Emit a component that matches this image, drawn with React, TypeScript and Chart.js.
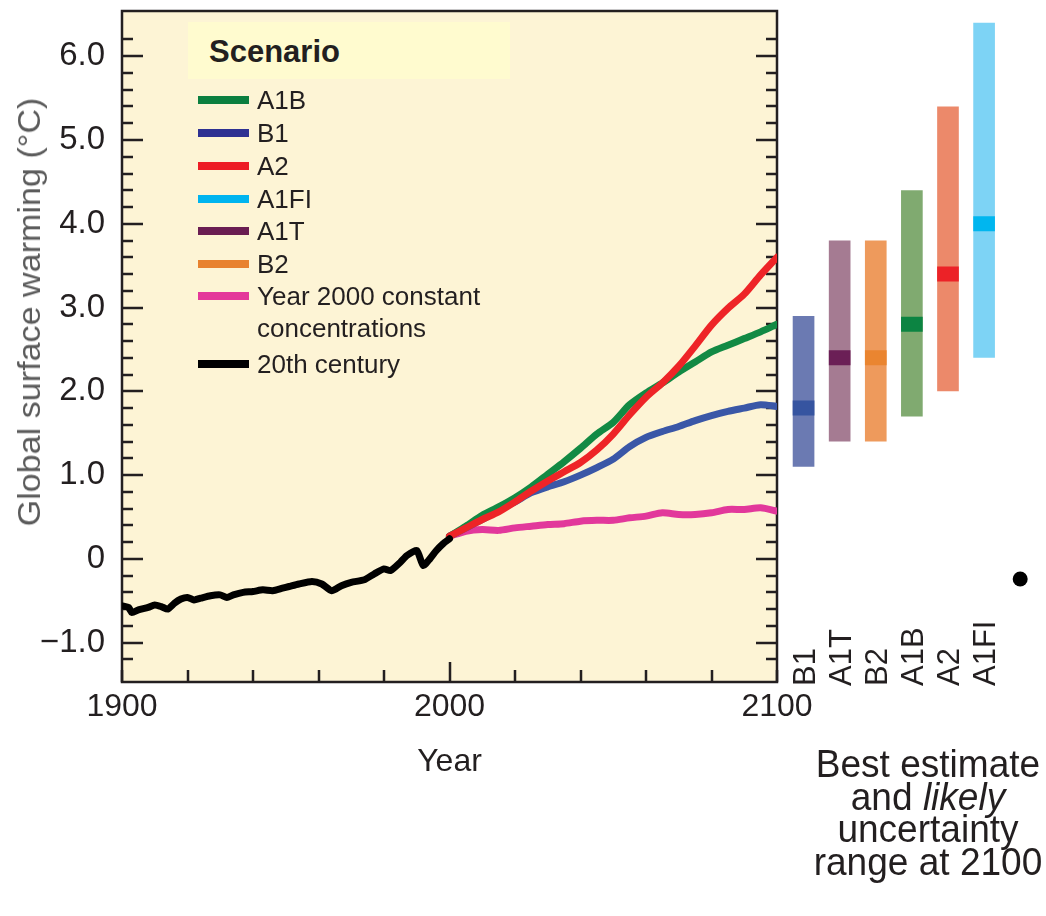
import React, { useEffect, useRef } from 'react';
import { Chart, registerables } from 'chart.js';

Chart.register(...registerables);

const FONT = '"Liberation Sans", Arial, Helvetica, sans-serif';
const INK = '#231f20';

// ---- 20th century observations ----
const histYears = [1900, 1902, 1903, 1905, 1908, 1910, 1912, 1914, 1916, 1918, 1920, 1922, 1924, 1927, 1930, 1932, 1934, 1937, 1940, 1943, 1946, 1949, 1951, 1954, 1958, 1961, 1964, 1967, 1970, 1974, 1977, 1980, 1982, 1985, 1987, 1990, 1992, 1994, 1996, 1998, 2000];
const histValues = [-0.56, -0.58, -0.64, -0.61, -0.58, -0.55, -0.57, -0.6, -0.53, -0.48, -0.46, -0.49, -0.47, -0.44, -0.43, -0.46, -0.43, -0.4, -0.39, -0.37, -0.38, -0.35, -0.33, -0.3, -0.27, -0.3, -0.38, -0.32, -0.28, -0.25, -0.18, -0.12, -0.14, -0.04, 0.04, 0.1, -0.08, 0.0, 0.1, 0.18, 0.24];

// ---- scenario projections ----
const scenarioYears = [2000, 2005, 2010, 2015, 2020, 2025, 2030, 2035, 2040, 2045, 2050, 2055, 2060, 2065, 2070, 2075, 2080, 2085, 2090, 2095, 2100];
const a1bValues = [0.27, 0.39, 0.52, 0.62, 0.73, 0.86, 1.01, 1.16, 1.32, 1.49, 1.63, 1.84, 1.98, 2.1, 2.23, 2.35, 2.47, 2.55, 2.63, 2.71, 2.8];
const a2Values = [0.27, 0.37, 0.47, 0.56, 0.68, 0.81, 0.93, 1.04, 1.15, 1.3, 1.49, 1.72, 1.93, 2.1, 2.3, 2.54, 2.79, 2.99, 3.16, 3.39, 3.6];
const b1Values = [0.27, 0.37, 0.47, 0.58, 0.68, 0.79, 0.86, 0.92, 1.0, 1.09, 1.19, 1.34, 1.45, 1.52, 1.58, 1.65, 1.71, 1.76, 1.8, 1.84, 1.82];
const constantValues = [0.27, 0.33, 0.35, 0.34, 0.37, 0.39, 0.41, 0.42, 0.45, 0.46, 0.46, 0.49, 0.51, 0.55, 0.53, 0.53, 0.55, 0.59, 0.59, 0.61, 0.57];

// ---- axes ----
const yMin = -1.47;
const yMax = 6.54;
const xMin = 1900;
const xMax = 2100;
const xLabelYears = [1900, 2000, 2100];

// ---- 2100 ranges ----
const rangeLabels = ['B1', 'A1T', 'B2', 'A1B', 'A2', 'A1FI', ''];
const rangeLow = [1.1, 1.4, 1.4, 1.7, 2.0, 2.4];
const rangeHigh = [2.9, 3.8, 3.8, 4.4, 5.4, 6.4];
const bestEstimate = [1.8, 2.4, 2.4, 2.8, 3.4, 4.0];
const dotValue = [null, null, null, null, null, null, -0.24];

const rangeColors = ['#6b7ab2', '#a57b92', '#ee9a5c', '#80aa70', '#ec896a', '#7dd3f5'];
const bestColors = ['#3654a0', '#6b1f56', '#ea8530', '#0c8442', '#ec2227', '#00b6ef'];
const BEST_HALF = 0.09;

const legendItems = [
  { label: 'A1B', color: '#0b7f3f', y: 100 },
  { label: 'B1', color: '#2e3192', y: 133 },
  { label: 'A2', color: '#ed1c24', y: 166 },
  { label: 'A1FI', color: '#00b4ef', y: 199 },
  { label: 'A1T', color: '#6a1d52', y: 231 },
  { label: 'B2', color: '#e8822f', y: 264 },
  { label: 'Year 2000 constant', color: '#e4389a', y: 296 },
  { label: 'concentrations', color: null, y: 328 },
  { label: '20th century', color: '#000000', y: 364 },
];

const toPoints = (xs: number[], ys: number[]) => xs.map((x, i) => ({ x, y: ys[i] }));

const frameInk = '#231f20';
const PLOT_BG = '#fdf4d5';

const zeroPadding = (s: any) => {
  s.paddingTop = 0;
  s.paddingBottom = 0;
  s.paddingLeft = 0;
  s.paddingRight = 0;
};

const framePlugin = {
  id: 'frame',
  beforeDraw(chart: any) {
    const { ctx, chartArea: a } = chart;
    ctx.save();
    ctx.fillStyle = PLOT_BG;
    ctx.fillRect(a.left, a.top, a.right - a.left, a.bottom - a.top);
    ctx.restore();
  },
  beforeDatasetsDraw(chart: any) {
    const { ctx, chartArea: a, scales } = chart;
    const x = scales.x;
    const y = scales.y;
    ctx.save();
    ctx.strokeStyle = frameInk;
    ctx.lineWidth = 2.5;
    ctx.beginPath();
    y.ticks.forEach((t: any) => {
      const v = t.value;
      const k = v / 0.2;
      if (Math.abs(k - Math.round(k)) > 1e-6) return;
      const major = Math.abs(v - Math.round(v)) < 1e-6;
      const len = major ? 21 : 11;
      const py = Math.round(y.getPixelForValue(v));
      ctx.moveTo(a.left, py);
      ctx.lineTo(a.left + len, py);
      ctx.moveTo(a.right, py);
      ctx.lineTo(a.right - len, py);
    });
    x.ticks.forEach((t: any) => {
      const v = t.value;
      const len = v === 2000 ? 20 : 12;
      const px = Math.round(x.getPixelForValue(v));
      ctx.moveTo(px, a.bottom);
      ctx.lineTo(px, a.bottom - len);
    });
    ctx.stroke();
    ctx.strokeRect(a.left, a.top, a.right - a.left, a.bottom - a.top);
    ctx.restore();
  },
};

const rotatedLabelsPlugin = {
  id: 'rotatedLabels',
  afterDraw(chart: any) {
    const { ctx, scales } = chart;
    const x = scales.x;
    const size = 31;
    ctx.save();
    ctx.fillStyle = INK;
    ctx.font = `${size}px ${FONT}`;
    ctx.textAlign = 'left';
    ctx.textBaseline = 'alphabetic';
    rangeLabels.forEach((lab, i) => {
      if (!lab) return;
      const px = x.getPixelForValue(i);
      ctx.save();
      ctx.translate(px + size * 0.716 / 2, 686);
      ctx.rotate(-Math.PI / 2);
      ctx.fillText(lab, 0, 0);
      ctx.restore();
    });
    ctx.restore();
  },
};

export default function App() {
  const mainRef = useRef<HTMLCanvasElement>(null);
  const barRef = useRef<HTMLCanvasElement>(null);

  useEffect(() => {
    const lineBase = { pointRadius: 0, borderWidth: 7, tension: 0.25, borderCapStyle: 'round', borderJoinStyle: 'round', fill: false };
    const main = new Chart(mainRef.current as HTMLCanvasElement, {
      type: 'line',
      data: {
        datasets: [
          { ...lineBase, label: '20th century', data: toPoints(histYears, histValues), borderColor: '#000000', tension: 0.2 },
          { ...lineBase, label: 'A2', data: toPoints(scenarioYears, a2Values), borderColor: '#ee2427' },
          { ...lineBase, label: 'A1B', data: toPoints(scenarioYears, a1bValues), borderColor: '#128a44' },
          { ...lineBase, label: 'B1', data: toPoints(scenarioYears, b1Values), borderColor: '#3a57a7' },
          { ...lineBase, label: 'Year 2000 constant concentrations', data: toPoints(scenarioYears, constantValues), borderColor: '#e2389b' },
        ] as any,
      },
      options: {
        responsive: false,
        animation: false,
        devicePixelRatio: 1,
        layout: { padding: { top: 11, right: 63, left: 0, bottom: 0 } },
        plugins: { legend: { display: false }, tooltip: { enabled: false } },
        scales: {
          x: {
            type: 'linear',
            min: xMin,
            max: xMax,
            grid: { display: false, drawTicks: false },
            border: { display: false },
            ticks: {
              stepSize: 20,
              autoSkip: false,
              maxRotation: 0,
              minRotation: 0,
              padding: 6,
              color: INK,
              font: { family: FONT, size: 32 },
              callback: (v: any) => (xLabelYears.includes(Number(v)) ? String(v) : ''),
            },
            title: { display: true, text: 'Year', color: INK, font: { family: FONT, size: 32 }, padding: { top: 0, bottom: 19 } },
            afterFit: (s: any) => { s.height = 118; zeroPadding(s); },
          },
          y: {
            type: 'linear',
            min: yMin,
            max: yMax,
            grid: { display: false, drawTicks: false },
            border: { display: false },
            ticks: {
              stepSize: 0.2,
              autoSkip: false,
              padding: 17,
              color: INK,
              font: { family: FONT, size: 33 },
              callback: (v: any) => {
                const n = Number(v);
                if (Math.abs(n - Math.round(n)) > 1e-6) return '';
                const r = Math.round(n);
                if (r === 0) return '0';
                return r < 0 ? '\u2212' + Math.abs(r).toFixed(1) : r.toFixed(1);
              },
            },
            afterFit: (s: any) => { s.width = 122; zeroPadding(s); },
          },
        },
      } as any,
      plugins: [framePlugin],
    });

    const bars = new Chart(barRef.current as HTMLCanvasElement, {
      type: 'bar',
      data: {
        labels: rangeLabels,
        datasets: [
          { type: 'line', data: dotValue, showLine: false, pointRadius: 7.5, pointBackgroundColor: '#000000', pointBorderWidth: 0, borderColor: '#000000' },
          { data: bestEstimate.map((b) => [b - BEST_HALF, b + BEST_HALF]), backgroundColor: bestColors, grouped: false, barPercentage: 0.6, categoryPercentage: 1 },
          { data: rangeLow.map((l, i) => [l, rangeHigh[i]]), backgroundColor: rangeColors, grouped: false, barPercentage: 0.6, categoryPercentage: 1 },
        ] as any,
      },
      options: {
        responsive: false,
        animation: false,
        devicePixelRatio: 1,
        layout: { padding: { top: 11, bottom: 18, left: 4.75, right: 7.75 } },
        plugins: { legend: { display: false }, tooltip: { enabled: false } },
        scales: {
          x: { display: false },
          y: { display: false, min: yMin, max: yMax },
        },
      } as any,
      plugins: [rotatedLabelsPlugin],
    });

    return () => {
      main.destroy();
      bars.destroy();
    };
  }, []);

  const noteLine = { transform: 'scaleX(0.95)', transformOrigin: 'center' } as React.CSSProperties;

  return (
    <div style={{ position: 'absolute', left: 0, top: 0, width: 1046, height: 916, background: '#ffffff', fontFamily: FONT, color: INK, overflow: 'hidden' }}>
      <canvas ref={mainRef} width={840} height={800} style={{ position: 'absolute', left: 0, top: 0, width: 840, height: 800 }} />
      <canvas ref={barRef} width={268} height={700} style={{ position: 'absolute', left: 778, top: 0, width: 268, height: 700 }} />

      <div style={{ position: 'absolute', left: 30, top: 312, transform: 'translate(-50%, -50%) rotate(-90deg) scaleX(1.1)', whiteSpace: 'nowrap', fontSize: 31, color: '#5b5b5b' }}>
        Global surface warming (°C)
      </div>

      <div style={{ position: 'absolute', left: 188, top: 22, width: 322, height: 57, background: '#fffbcf' }} />
      <div style={{ position: 'absolute', left: 209, top: 51.5, transform: 'translateY(-50%)', fontSize: 31, fontWeight: 'bold', lineHeight: '34px', whiteSpace: 'nowrap' }}>
        Scenario
      </div>
      {legendItems.map((it) => (
        <React.Fragment key={it.label}>
          {it.color && (
            <div style={{ position: 'absolute', left: 198, top: it.y - 4, width: 51, height: 8, background: it.color }} />
          )}
          <div style={{ position: 'absolute', left: 257, top: it.y, transform: 'translateY(-50%)', fontSize: 26, lineHeight: '28px', whiteSpace: 'nowrap' }}>
            {it.label}
          </div>
        </React.Fragment>
      ))}

      <div style={{ position: 'absolute', left: 788, top: 748, width: 280, textAlign: 'center', fontSize: 39, lineHeight: '32.5px', whiteSpace: 'nowrap' }}>
        <div style={noteLine}>Best estimate</div>
        <div style={noteLine}>and <i>likely</i></div>
        <div style={noteLine}>uncertainty</div>
        <div style={noteLine}>range at 2100</div>
      </div>
    </div>
  );
}
